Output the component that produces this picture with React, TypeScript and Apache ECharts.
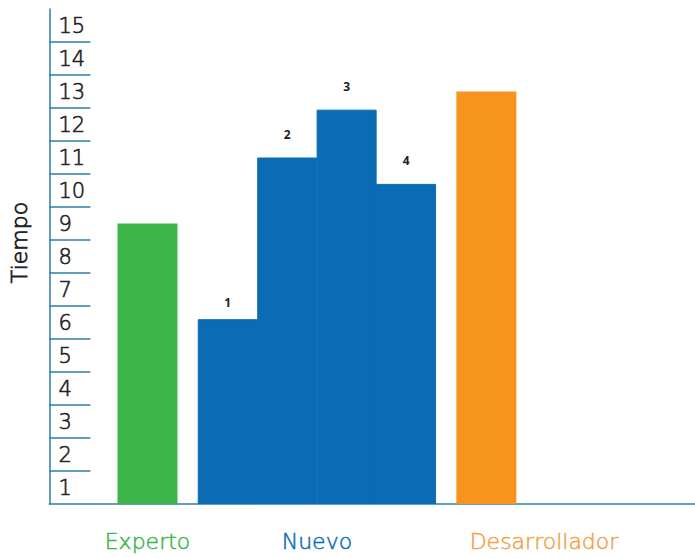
import React, { useEffect, useRef } from "react";
import * as echarts from "echarts";

// ---- data ----
const categories = ["Experto", "Nuevo", "Desarrollador"];
const categoryColors = ["#3db54a", "#0b6cb5", "#f3a14a"];
const expertoValue = 8.5;
const nuevoSteps = ["1", "2", "3", "4"];
const nuevoValues = [5.6, 10.5, 11.95, 9.7];
const desarrolladorValue = 12.5;
const yTickLabels = ["1", "2", "3", "4", "5", "6", "7", "8", "9", "10", "11", "12", "13", "14", "15"];
const yAxisTitle = "Tiempo";

// ---- layout (axis units: 1 = one bar width) ----
const X_MAX = 10.86;
const GAP = 0.35;
const NUEVO_FIRST = 3;
const LABEL_POS = [1.65, 4.5, 8.32];

const FONT = "'DejaVu Sans', sans-serif";
const BLUE = "#0b6cb5";

export default function App() {
  const ref = useRef<HTMLDivElement>(null);
  useEffect(() => {
    if (!ref.current) return;
    const chart = echarts.init(ref.current, undefined, { renderer: "svg" });

    const expertoX = NUEVO_FIRST - 1 - GAP;
    const desX = NUEVO_FIRST + nuevoValues.length + GAP;
    const barData: any[] = [];
    barData.push({ value: [expertoX, expertoValue], itemStyle: { color: "#3db54a" } });
    nuevoValues.forEach((v, i) => {
      barData.push({
        value: [NUEVO_FIRST + i, v],
        itemStyle: { color: BLUE, borderColor: BLUE, borderWidth: 1 },
        label: {
          show: true,
          position: "top",
          distance: i === 0 ? 11 : 17,
          formatter: nuevoSteps[i],
          fontSize: 12,
          fontWeight: "bold",
          color: "#222",
          fontFamily: "'Open Sans', sans-serif",
        },
      });
    });
    barData.push({ value: [desX, desarrolladorValue], itemStyle: { color: "#f7941d" } });

    const tickVals = yTickLabels.slice(0, yTickLabels.length - 1).map((_, i) => i + 1);
    const labelVals = yTickLabels.map((_, i) => i + 0.5);

    const catStyle = (c: string) => ({
      color: c,
      fontSize: 22,
      fontFamily: FONT,
      fontWeight: 200,
      textBorderColor: c,
      textBorderWidth: 0.5,
    });

    chart.setOption({
      animation: false,
      backgroundColor: "#ffffff",
      grid: { left: 49, right: 0, top: 9, bottom: 54, containLabel: false },
      xAxis: {
        type: "value",
        min: 0,
        max: X_MAX,
        splitLine: { show: false },
        axisLine: { show: true, lineStyle: { color: "#2c7ca6", width: 1.5 } },
        axisTick: { show: false },
        axisLabel: {
          customValues: LABEL_POS,
          margin: 26,
          formatter: (v: number) => {
            let idx = 0;
            let best = 1e9;
            LABEL_POS.forEach((p, i) => {
              if (Math.abs(p - v) < best) {
                best = Math.abs(p - v);
                idx = i;
              }
            });
            return `{c${idx}|${categories[idx]}}`;
          },
          rich: {
            c0: catStyle(categoryColors[0]),
            c1: catStyle(categoryColors[1]),
            c2: catStyle(categoryColors[2]),
          },
        },
      },
      yAxis: {
        type: "value",
        min: 0,
        max: yTickLabels.length,
        interval: 1,
        name: yAxisTitle,
        nameLocation: "middle",
        nameRotate: 90,
        nameGap: 19,
        nameTextStyle: {
          fontSize: 22,
          color: "#222",
          fontFamily: FONT,
          fontWeight: 200,
          textBorderColor: "#222",
          textBorderWidth: 0.8,
          padding: [0, 0, 0, 28],
        },
        splitLine: { show: false },
        axisLine: { show: true, lineStyle: { color: "#2c7ca6", width: 1.5 } },
        axisTick: {
          show: true,
          inside: true,
          length: 41,
          customValues: tickVals,
          lineStyle: { color: "#2c7ca6", width: 1.5 },
        },
        axisLabel: {
          inside: true,
          margin: 9,
          customValues: labelVals,
          formatter: (v: number) => yTickLabels[Math.round(v - 0.5)] ?? "",
          fontSize: 21,
          color: "#222",
          fontFamily: FONT,
          fontWeight: 200,
          textBorderColor: "#222",
          textBorderWidth: 0.6,
        },
      },
      series: [
        {
          type: "bar",
          barWidth: 60,
          data: barData,
        },
      ],
    });
    return () => chart.dispose();
  }, []);
  return (
    <div
      ref={ref}
      style={{ position: "fixed", left: 0, top: 0, width: 695, height: 558 }}
    />
  );
}
